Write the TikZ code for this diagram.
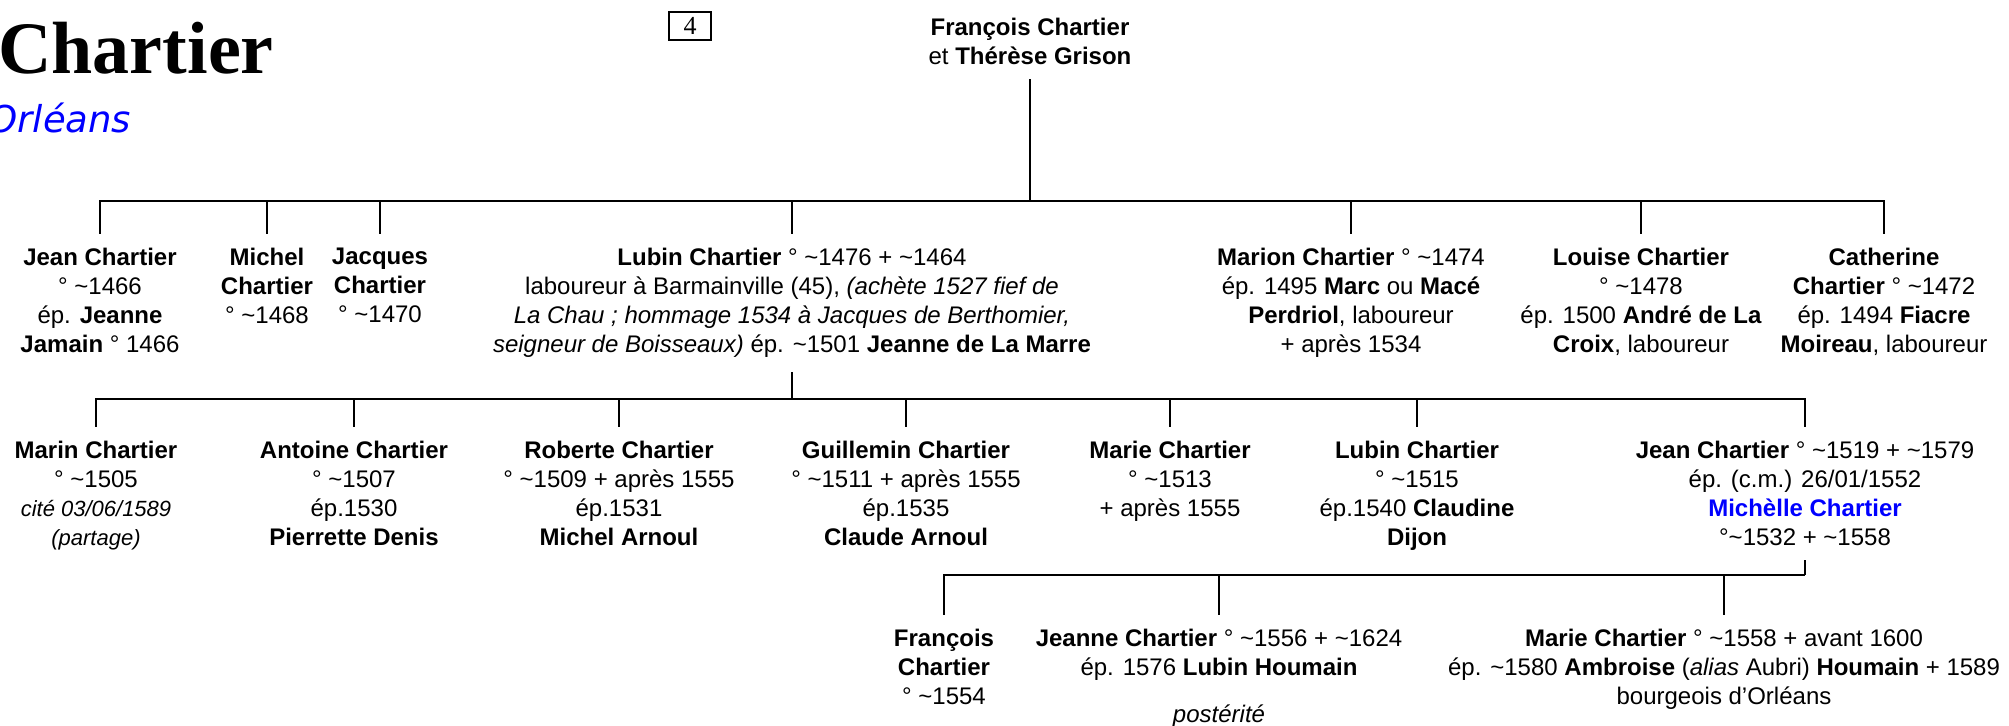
\documentclass[tikz,border=0pt]{standalone}
\usepackage{fontspec}
\setmainfont{Liberation Sans}
\newfontfamily\titrefont{Liberation Serif}
\newfontfamily\lieufont{DejaVu Sans}
\usepackage{tikz}
\usetikzlibrary{positioning}
\usepackage{xcolor}
\newcommand{\env}{\textasciitilde}

\begin{document}
\begin{tikzpicture}[x=0.5pt,y=-0.5pt,
    pers/.style={anchor=north,align=center,inner xsep=2pt,inner ysep=7pt,font=\fontsize{12}{14.5}\selectfont},
    lien/.style={line width=1.3pt},
    note/.style={font=\fontsize{11}{14.5}\selectfont\itshape}]
    \useasboundingbox (0,0) rectangle (2009,726);
    % en-tete
    \node[anchor=base west,inner sep=0pt,font={\titrefont\bfseries\fontsize{37}{40}\selectfont}] (titre) at (-2,74) {Chartier};
    \node[anchor=base west,inner sep=0pt,text=blue,font={\lieufont\itshape\fontsize{18.5}{20}\selectfont}] (lieu) at (-12,133) {Orléans};
    \node[draw,line width=1pt,inner sep=0pt,minimum width=21pt,minimum height=14pt,font={\titrefont\fontsize{13}{14}\selectfont}] (planche) at (690,26) {4};
    \node[pers] (fc) at (1030,4) {\textbf{François Chartier}\\et \textbf{Thérèse Grison}};
    % coordonnees des barres
    \coordinate (b1) at (0,201);
    \coordinate (b2) at (0,399);
    \coordinate (b3) at (0,575);
    % enfants de Francois
    \node[pers] (jean) at (100,234) {\textbf{Jean Chartier}\\° \env1466\\ép. \textbf{Jeanne}\\\textbf{Jamain} ° 1466};
    \node[pers] (michel) at (267,234) {\textbf{Michel}\\\textbf{Chartier}\\° \env1468};
    \node[pers] (jacques) at (380,234) {\textbf{Jacques}\\\textbf{Chartier}\\° \env1470};
    \node[pers] (lubin) at (792,234) {\textbf{Lubin Chartier} ° \env1476 + \env1464\\laboureur à Barmainville (45), \textit{(achète 1527 fief de}\\\textit{La Chau ; hommage 1534 à Jacques de Berthomier,}\\\textit{seigneur de Boisseaux)} ép. \env1501 \textbf{Jeanne de La Marre}};
    \node[pers] (marion) at (1351,234) {\textbf{Marion Chartier} ° \env1474\\ép. 1495 \textbf{Marc} ou \textbf{Macé}\\\textbf{Perdriol}, laboureur\\+ après 1534};
    \node[pers] (louise) at (1641,234) {\textbf{Louise Chartier}\\° \env1478\\ép. 1500 \textbf{André de La}\\\textbf{Croix}, laboureur};
    \node[pers] (cath) at (1884,234) {\textbf{Catherine}\\\textbf{Chartier} ° \env1472\\ép. 1494 \textbf{Fiacre}\\\textbf{Moireau}, laboureur};
    % enfants de Lubin
    \node[pers] (marin) at (96,427) {\textbf{Marin Chartier}\\° \env1505\\{\fontsize{11}{14.5}\selectfont\itshape cité 03/06/1589}\\{\fontsize{11}{14.5}\selectfont\itshape (partage)}};
    \node[pers] (antoine) at (354,427) {\textbf{Antoine Chartier}\\° \env1507\\ép.1530\\\textbf{Pierrette Denis}};
    \node[pers] (roberte) at (619,427) {\textbf{Roberte Chartier}\\° \env1509 + après 1555\\ép.1531\\\textbf{Michel Arnoul}};
    \node[pers] (guill) at (906,427) {\textbf{Guillemin Chartier}\\° \env1511 + après 1555\\ép.1535\\\textbf{Claude Arnoul}};
    \node[pers] (marie) at (1170,427) {\textbf{Marie Chartier}\\° \env1513\\+ après 1555};
    \node[pers] (lubinb) at (1417,427) {\textbf{Lubin Chartier}\\° \env1515\\ép.1540 \textbf{Claudine}\\\textbf{Dijon}};
    \node[pers] (jeanb) at (1805,427) {\textbf{Jean Chartier} ° \env1519 + \env1579\\ép. (c.m.) 26/01/1552\\\textcolor{blue}{\textbf{Michèlle Chartier}}\\°\env1532 + \env1558};
    % enfants de Jean
    \node[pers] (francois) at (944,615) {\textbf{François}\\\textbf{Chartier}\\° \env1554};
    \node[pers] (jeanne) at (1219,615) {\textbf{Jeanne Chartier} ° \env1556 + \env1624\\ép. 1576 \textbf{Lubin Houmain}\\[9pt]\textit{postérité}};
    \node[pers] (mariec) at (1724,615) {\textbf{Marie Chartier} ° \env1558 + avant 1600\\ép. \env1580 \textbf{Ambroise} (\textit{alias} Aubri) \textbf{Houmain} + 1589\\bourgeois d’Orléans};
    % liens
    \draw[lien] (fc.south) -- (fc.south |- b1);
    \draw[lien] (jean.north) |- (cath.north |- b1) -- (cath.north);
    \foreach \n in {michel,jacques,lubin,marion,louise}
        \draw[lien] (\n.north) -- (\n.north |- b1);
    \draw[lien] (lubin.south) -- (lubin.south |- b2);
    \draw[lien] (marin.north) |- (jeanb.north |- b2) -- (jeanb.north);
    \foreach \n in {antoine,roberte,guill,marie,lubinb}
        \draw[lien] (\n.north) -- (\n.north |- b2);
    \draw[lien] (jeanb.south) -- (jeanb.south |- b3);
    \draw[lien] (francois.north) |- (jeanb.south |- b3);
    \foreach \n in {jeanne,mariec}
        \draw[lien] (\n.north) -- (\n.north |- b3);
\end{tikzpicture}
\end{document}
